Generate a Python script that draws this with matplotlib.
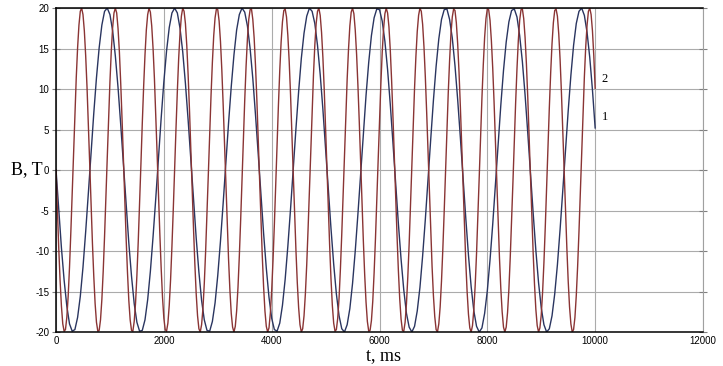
import numpy as np
import matplotlib
matplotlib.use('Agg')
import matplotlib.pyplot as plt

plt.rcParams['font.family'] = ['Liberation Sans', 'DejaVu Sans']
plt.rcParams['axes.unicode_minus'] = False

# кривая 1: отсчёты через 50 мс, 0..10000 мс
t1 = np.arange(0, 10001, 50)
b1 = [
    -0.0, -4.9, -9.6, -13.6, -16.8, -19.0, -19.9, -19.7, -18.2, -15.6,
    -12.0, -7.6, -2.8, 2.2, 7.0, 11.4, 15.1, 17.9, 19.6, 20.0,
    19.2, 17.2, 14.1, 10.2, 5.6, 0.7, -4.3, -9.0, -13.1, -16.5,
    -18.8, -19.9, -19.8, -18.5, -16.0, -12.5, -8.2, -3.5, 1.5, 6.4,
    10.9, 14.7, 17.6, 19.4, 20.0, 19.4, 17.5, 14.6, 10.7, 6.2,
    1.3, -3.7, -8.4, -12.6, -16.1, -18.5, -19.8, -19.9, -18.7, -16.4,
    -13.0, -8.8, -4.1, 0.8, 5.8, 10.3, 14.2, 17.3, 19.2, 20.0,
    19.5, 17.8, 15.0, 11.3, 6.8, 2.0, -3.0, -7.8, -12.1, -15.7,
    -18.3, -19.7, -19.9, -18.9, -16.7, -13.5, -9.4, -4.8, 0.2, 5.1,
    9.7, 13.8, 16.9, 19.0, 20.0, 19.6, 18.1, 15.4, 11.8, 7.5,
    2.6, -2.3, -7.2, -11.6, -15.3, -18.0, -19.6, -20.0, -19.1, -17.1,
    -14.0, -10.0, -5.4, -0.5, 4.5, 9.2, 13.3, 16.6, 18.8, 19.9,
    19.8, 18.4, 15.9, 12.4, 8.1, 3.3, -1.7, -6.6, -11.0, -14.8,
    -17.7, -19.4, -20.0, -19.3, -17.4, -14.5, -10.6, -6.1, -1.1, 3.8,
    8.6, 12.8, 16.2, 18.6, 19.8, 19.9, 18.6, 16.3, 12.9, 8.7,
    4.0, -1.0, -5.9, -10.5, -14.4, -17.4, -19.3, -20.0, -19.5, -17.7,
    -14.9, -11.1, -6.7, -1.8, 3.2, 8.0, 12.3, 15.8, 18.3, 19.7,
    19.9, 18.9, 16.6, 13.4, 9.3, 4.6, -0.4, -5.3, -9.9, -13.9,
    -17.0, -19.1, -20.0, -19.6, -18.0, -15.3, -11.7, -7.3, -2.5, 2.5,
    7.3, 11.7, 15.4, 18.1, 19.6, 20.0, 19.1, 17.0, 13.9, 9.9,
    5.2,
]

# кривая 2: отсчёты через 25 мс, 0..10000 мс
t2 = np.arange(0, 10001, 25)
b2 = [
    -0.0, -4.9, -9.6, -13.6, -16.8, -19.0, -19.9, -19.7, -18.2, -15.6,
    -12.0, -7.6, -2.8, 2.2, 7.0, 11.4, 15.1, 17.9, 19.6, 20.0,
    19.2, 17.2, 14.1, 10.2, 5.6, 0.7, -4.3, -9.0, -13.1, -16.5,
    -18.8, -19.9, -19.8, -18.5, -16.0, -12.5, -8.2, -3.5, 1.5, 6.4,
    10.9, 14.7, 17.6, 19.4, 20.0, 19.4, 17.5, 14.6, 10.7, 6.2,
    1.3, -3.7, -8.4, -12.6, -16.1, -18.5, -19.8, -19.9, -18.7, -16.4,
    -13.0, -8.8, -4.1, 0.8, 5.8, 10.3, 14.2, 17.3, 19.2, 20.0,
    19.5, 17.8, 15.0, 11.3, 6.8, 2.0, -3.0, -7.8, -12.1, -15.7,
    -18.3, -19.7, -19.9, -18.9, -16.7, -13.5, -9.4, -4.8, 0.2, 5.1,
    9.7, 13.8, 16.9, 19.0, 20.0, 19.6, 18.1, 15.4, 11.8, 7.5,
    2.6, -2.3, -7.2, -11.6, -15.3, -18.0, -19.6, -20.0, -19.1, -17.1,
    -14.0, -10.0, -5.4, -0.5, 4.5, 9.2, 13.3, 16.6, 18.8, 19.9,
    19.8, 18.4, 15.9, 12.4, 8.1, 3.3, -1.7, -6.6, -11.0, -14.8,
    -17.7, -19.4, -20.0, -19.3, -17.4, -14.5, -10.6, -6.1, -1.1, 3.8,
    8.6, 12.8, 16.2, 18.6, 19.8, 19.9, 18.6, 16.3, 12.9, 8.7,
    4.0, -1.0, -5.9, -10.5, -14.4, -17.4, -19.3, -20.0, -19.5, -17.7,
    -14.9, -11.1, -6.7, -1.8, 3.2, 8.0, 12.3, 15.8, 18.3, 19.7,
    19.9, 18.9, 16.6, 13.4, 9.3, 4.6, -0.4, -5.3, -9.9, -13.9,
    -17.0, -19.1, -20.0, -19.6, -18.0, -15.3, -11.7, -7.3, -2.5, 2.5,
    7.3, 11.7, 15.4, 18.1, 19.6, 20.0, 19.1, 17.0, 13.9, 9.9,
    5.2, 0.3, -4.6, -9.3, -13.4, -16.7, -18.9, -19.9, -19.7, -18.3,
    -15.8, -12.2, -7.9, -3.1, 1.9, 6.7, 11.2, 14.9, 17.8, 19.5,
    20.0, 19.3, 17.3, 14.3, 10.4, 5.9, 1.0, -4.0, -8.7, -12.9,
    -16.3, -18.7, -19.9, -19.8, -18.6, -16.2, -12.7, -8.5, -3.8, 1.2,
    6.1, 10.6, 14.5, 17.4, 19.3, 20.0, 19.4, 17.7, 14.8, 11.0,
    6.5, 1.6, -3.3, -8.1, -12.4, -15.9, -18.4, -19.8, -19.9, -18.8,
    -16.5, -13.2, -9.1, -4.4, 0.5, 5.5, 10.1, 14.0, 17.1, 19.1,
    20.0, 19.6, 18.0, 15.2, 11.5, 7.1, 2.3, -2.7, -7.5, -11.9,
    -15.5, -18.1, -19.7, -20.0, -19.0, -16.9, -13.7, -9.7, -5.1, -0.1,
    4.8, 9.5, 13.5, 16.8, 18.9, 19.9, 19.7, 18.2, 15.6, 12.1,
    7.8, 3.0, -2.0, -6.9, -11.3, -15.0, -17.8, -19.5, -20.0, -19.2,
    -17.2, -14.2, -10.3, -5.7, -0.8, 4.2, 8.9, 13.0, 16.4, 18.7,
    19.9, 19.8, 18.5, 16.0, 12.6, 8.4, 3.6, -1.4, -6.3, -10.8,
    -14.6, -17.5, -19.4, -20.0, -19.4, -17.6, -14.7, -10.8, -6.3, -1.5,
    3.5, 8.3, 12.5, 16.0, 18.5, 19.8, 19.9, 18.7, 16.4, 13.1,
    9.0, 4.3, -0.7, -5.6, -10.2, -14.1, -17.2, -19.2, -20.0, -19.5,
    -17.9, -15.1, -11.4, -7.0, -2.1, 2.9, 7.7, 12.0, 15.6, 18.2,
    19.7, 19.9, 19.0, 16.8, 13.6, 9.5, 4.9, -0.0, -5.0, -9.6,
    -13.7, -16.9, -19.0, -20.0, -19.7, -18.2, -15.5, -11.9, -7.6, -2.8,
    2.2, 7.1, 11.5, 15.2, 17.9, 19.6, 20.0, 19.2, 17.2, 14.1,
    10.1,
]

x_ticks = [0, 2000, 4000, 6000, 8000, 10000, 12000]
y_ticks = [-20, -15, -10, -5, 0, 5, 10, 15, 20]

fig = plt.figure(figsize=(7.23, 3.66), dpi=100)
ax = fig.add_axes([0.0775, 0.0929, 0.8948, 0.885])

ax.plot(t1, b1, color='#2a3560', lw=1.0)
ax.plot(t2, b2, color='#8a3434', lw=1.0)

ax.set_xlim(0, 12000)
ax.set_ylim(-20, 20)
ax.set_xticks(x_ticks)
ax.set_yticks(y_ticks)
ax.grid(True, color='#ababab', lw=0.8)
ax.set_axisbelow(True)

for s in ['left', 'top', 'bottom']:
    ax.spines[s].set_color('black')
    ax.spines[s].set_linewidth(1.1)
ax.spines['right'].set_color('#a0a0a0')
ax.spines['right'].set_linewidth(0.8)

ax.tick_params(axis='y', which='both', left=True, right=True, direction='inout',
               length=6, width=0.8, color='#808080', labelsize=7, pad=2)
ax.tick_params(axis='x', length=0, labelsize=7, pad=3)

ser = ['Liberation Serif', 'DejaVu Serif']
fig.text(383 / 723, 1 - 356 / 366, 't, ms', family=ser, fontsize=13,
         ha='center', va='center')
fig.text(27 / 723, 1 - 170 / 366, 'B, T', family=ser, fontsize=13,
         ha='center', va='center')

ax.text(10120, 11.2, '2', family=ser, fontsize=9, ha='left', va='center')
ax.text(10120, 6.6, '1', family=ser, fontsize=9, ha='left', va='center')

fig.savefig('out.png', dpi=100)
